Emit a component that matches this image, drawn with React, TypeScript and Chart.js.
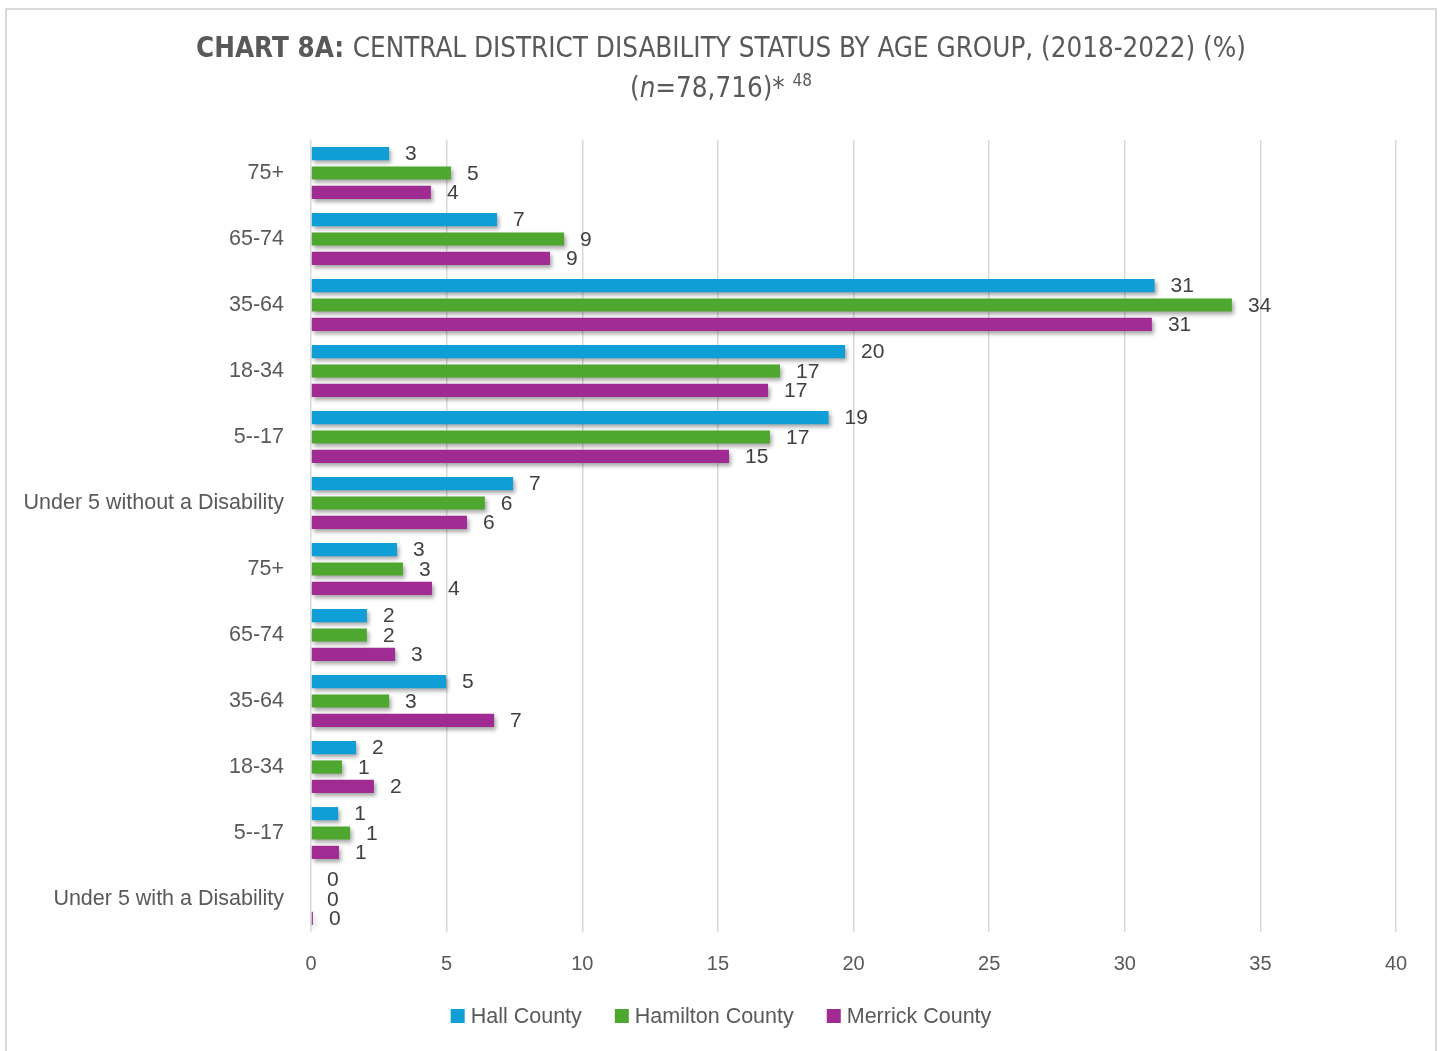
import React, { useEffect, useRef } from "react";
import { Chart, registerables } from "chart.js";

Chart.register(...registerables);

const categories = [
  "75+",
  "65-74",
  "35-64",
  "18-34",
  "5--17",
  "Under 5 without a Disability",
  "75+",
  "65-74",
  "35-64",
  "18-34",
  "5--17",
  "Under 5 with a Disability",
];

const hallCounty = [2.88, 6.86, 31.1, 19.69, 19.08, 7.45, 3.17, 2.06, 4.98, 1.66, 1.0, 0];
const hamiltonCounty = [5.16, 9.33, 33.95, 17.29, 16.92, 6.41, 3.39, 2.06, 2.88, 1.14, 1.44, 0];
const merrickCounty = [4.42, 8.81, 31.0, 16.85, 15.41, 5.75, 4.46, 3.1, 6.75, 2.32, 1.03, 0.07];

const seriesNames = ["Hall County", "Hamilton County", "Merrick County"];
const seriesColors = ["#0F9ED5", "#4EA72E", "#A02B93"];

const xTicks = [0, 5, 10, 15, 20, 25, 30, 35, 40];

const titleBold = "CHART 8A: ";
const titleRest = "CENTRAL DISTRICT DISABILITY STATUS BY AGE GROUP, (2018-2022) (%)";
const subtitleParts = ["(", "n", "=78,716)* ", "48"];

const NARROW = "'Liberation Sans Narrow', 'DejaVu Sans Condensed', 'Liberation Sans', sans-serif";
const SANS = "'Liberation Sans', Arial, sans-serif";
const TEXT = "#595959";

const CW = 1428;
const CH = 1048;

export default function App() {
  const ref = useRef<HTMLCanvasElement | null>(null);

  useEffect(() => {
    if (!ref.current) return;

    const customPlugin = {
      id: "custom",
      beforeDatasetsDraw(chart: any) {
        const ctx = chart.ctx;
        ctx.save();
        ctx.shadowColor = "rgba(0,0,0,0.35)";
        ctx.shadowBlur = 4;
        ctx.shadowOffsetX = 2;
        ctx.shadowOffsetY = 3;
      },
      afterDatasetsDraw(chart: any) {
        const ctx = chart.ctx;
        ctx.restore();
        ctx.save();
        ctx.fillStyle = "#404040";
        ctx.font = `21px ${SANS}`;
        ctx.textAlign = "left";
        ctx.textBaseline = "middle";
        chart.data.datasets.forEach((ds: any, i: number) => {
          const meta = chart.getDatasetMeta(i);
          meta.data.forEach((el: any, j: number) => {
            const v = ds.data[j];
            ctx.fillText(String(Math.round(v)), el.x + 16, el.y + 1);
          });
        });
        ctx.restore();
      },
      afterDraw(chart: any) {
        const ctx = chart.ctx;
        ctx.save();
        // Title line 1
        ctx.fillStyle = TEXT;
        ctx.textBaseline = "middle";
        ctx.textAlign = "left";
        const boldFont = `bold 27.5px ${NARROW}`;
        const normFont = `27.5px ${NARROW}`;
        ctx.font = boldFont;
        const w1 = ctx.measureText(titleBold).width;
        ctx.font = normFont;
        const w2 = ctx.measureText(titleRest).width;
        const cx = CW / 2;
        let x = cx - (w1 + w2) / 2;
        const y1 = 40;
        ctx.font = boldFont;
        ctx.fillText(titleBold, x, y1);
        x += w1;
        ctx.font = normFont;
        ctx.fillText(titleRest, x, y1);

        // Title line 2
        const y2 = 80;
        const fonts = [normFont, `italic 27.5px ${NARROW}`, normFont, `17px ${NARROW}`];
        const widths = subtitleParts.map((t, i) => {
          ctx.font = fonts[i];
          return ctx.measureText(t).width;
        });
        const total = widths.reduce((a, b) => a + b, 0);
        x = cx - total / 2;
        subtitleParts.forEach((t, i) => {
          ctx.font = fonts[i];
          ctx.fillText(t, x, i === 3 ? y2 - 8 : y2);
          x += widths[i];
        });

        // Legend
        const ly = 1006;
        ctx.font = `21.5px ${SANS}`;
        const box = 14;
        const gapText = 6;
        const gapItem = 33;
        const items = chart.data.datasets.map((ds: any) => ({
          label: ds.label,
          color: ds.backgroundColor,
          w: ctx.measureText(ds.label).width,
        }));
        const totalW =
          items.reduce((a: number, it: any) => a + box + gapText + it.w, 0) + gapItem * (items.length - 1);
        x = cx - totalW / 2;
        items.forEach((it: any) => {
          ctx.fillStyle = it.color;
          ctx.fillRect(x, ly - box / 2, box, box);
          x += box + gapText;
          ctx.fillStyle = TEXT;
          ctx.fillText(it.label, x, ly + 1);
          x += it.w + gapItem;
        });
        ctx.restore();
      },
    };

    const chart = new Chart(ref.current, {
      type: "bar",
      data: {
        labels: categories,
        datasets: [hallCounty, hamiltonCounty, merrickCounty].map((d, i) => ({
          label: seriesNames[i],
          data: d,
          backgroundColor: seriesColors[i],
          borderWidth: 0,
          categoryPercentage: 0.88,
          barPercentage: 0.68,
        })),
      },
      options: {
        indexAxis: "y",
        responsive: false,
        animation: false,
        layout: { padding: { top: 130, right: 39, left: 0, bottom: 76 } },
        plugins: {
          legend: { display: false },
          title: { display: false },
          tooltip: { enabled: false },
        },
        scales: {
          x: {
            min: 0,
            max: 40,
            afterBuildTicks: (s: any) => {
              s.ticks = xTicks.map((v) => ({ value: v }));
            },
            afterFit: (s: any) => {
              s.height = 50;
            },
            grid: { color: "#D9D9D9", lineWidth: 1.5, drawTicks: false },
            border: { display: false },
            ticks: { color: TEXT, font: { size: 20, family: SANS }, padding: 20 },
          },
          y: {
            afterFit: (s: any) => {
              s.width = 304;
            },
            grid: { display: false, drawTicks: false },
            border: { display: false },
            ticks: { color: TEXT, font: { size: 21.5, family: SANS }, padding: 27, autoSkip: false },
          },
        },
      },
      plugins: [customPlugin],
    });
    return () => chart.destroy();
  }, []);

  return (
    <div
      style={{
        position: "absolute",
        left: 5,
        top: 8,
        width: 1432,
        height: 1052,
        border: "2px solid #D9D9D9",
        boxSizing: "border-box",
        background: "#fff",
      }}
    >
      <canvas ref={ref} width={CW} height={CH} style={{ display: "block", width: CW, height: CH }} />
    </div>
  );
}
